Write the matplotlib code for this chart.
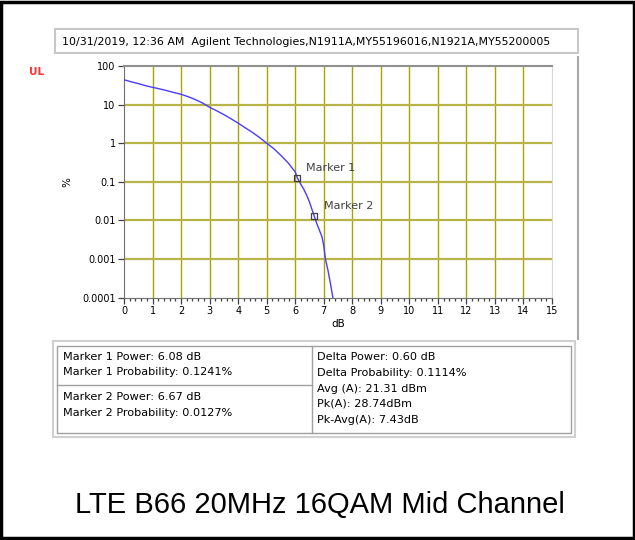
import numpy as np
import matplotlib
matplotlib.use("Agg")
import matplotlib.pyplot as plt
from matplotlib.patches import Rectangle
from matplotlib.ticker import FixedLocator, MultipleLocator, NullLocator

# CCDF curve
power_db = [0, 0.25, 0.5, 0.75, 1, 1.25, 1.5, 1.75, 2, 2.25, 2.5, 2.75, 3, 3.25,
            3.5, 3.75, 4, 4.25, 4.5, 4.75, 5, 5.25, 5.5, 5.75, 6, 6.08, 6.2, 6.3,
            6.4, 6.5, 6.6, 6.67, 6.75, 6.85, 6.94, 7.0, 7.06, 7.15, 7.25, 7.32]
prob_pct = [44, 39, 35, 31, 28, 25.5, 23, 20.5, 18.5, 16, 13.5, 11, 8.5, 6.9,
            5.5, 4.3, 3.3, 2.5, 1.9, 1.4, 1.0, 0.72, 0.48, 0.31, 0.18, 0.1241, 0.085, 0.064,
            0.045, 0.03, 0.018, 0.0127, 0.0085, 0.0055, 0.0037, 0.0022, 0.001, 0.0005, 0.0002, 0.0001]

marker_db = [6.08, 6.67]
marker_pct = [0.1241, 0.0127]
marker_names = ["Marker 1", "Marker 2"]

y_ticks = [100, 10, 1, 0.1, 0.01, 0.001, 0.0001]
y_labels = ["100", "10", "1", "0.1", "0.01", "0.001", "0.0001"]

header = "10/31/2019, 12:36 AM  Agilent Technologies,N1911A,MY55196016,N1921A,MY55200005"
left_top = ["Marker 1 Power: 6.08 dB", "Marker 1 Probability: 0.1241%"]
left_bot = ["Marker 2 Power: 6.67 dB", "Marker 2 Probability: 0.0127%"]
right_col = ["Delta Power: 0.60 dB", "Delta Probability: 0.1114%", "Avg (A): 21.31 dBm",
             "Pk(A): 28.74dBm", "Pk-Avg(A): 7.43dB"]
caption = "LTE B66 20MHz 16QAM Mid Channel"

W, H = 635, 540
fig = plt.figure(figsize=(W / 100, H / 100), dpi=100)
fig.patch.set_facecolor("white")

def px(x, y):
    # pixel coords (from top-left) -> figure fraction
    return x / W, 1 - y / H

def box(x0, y0, x1, y1, **kw):
    fig.patches.append(Rectangle(px(x0, y1), (x1 - x0) / W, (y1 - y0) / H,
                                 transform=fig.transFigure, **kw))

# outer black frame
box(1, 1.5, 633.5, 537.5, fill=False, edgecolor="black", linewidth=2.5)

# header strip (sunken look)
box(55, 29, 578, 53, facecolor="white", edgecolor="#c8c8c8", linewidth=1.5)
fig.lines.append(plt.Line2D([578 / W, 578 / W], [1 - 57 / H, 1 - 339 / H],
                            transform=fig.transFigure, color="#a8a8a8", lw=1.5))
fig.text(*px(62, 42), header, fontsize=7.9, va="center", ha="left", color="black")

fig.text(*px(37, 72), "UL", fontsize=7.5, color="#ff3030", fontweight="bold",
         ha="center", va="center")
fig.text(*px(67, 182), "%", fontsize=7.5, rotation=90, ha="center", va="center")

# plot
ax = fig.add_axes([124 / W, 1 - 297.5 / H, (552 - 124) / W, (297.5 - 66) / H])
ax.set_yscale("log")
ax.set_xlim(0, 15)
ax.set_ylim(0.0001, 100)

for v in range(1, 15):
    ax.axvline(v, color="#a8a400", lw=1.0, zorder=1)
for v in y_ticks[1:-1]:
    ax.axhline(v, color="#b8b448", lw=1.6, zorder=1)

ax.plot(power_db, prob_pct, color="#4a3cff", lw=1.0, zorder=3)
ax.plot(marker_db, marker_pct, linestyle="none", marker="s", markersize=4.2,
        markerfacecolor="none", markeredgecolor="#404040", markeredgewidth=0.9, zorder=4)
offsets = [(0.30, 1.8), (0.34, 1.8)]
for name, xv, yv, (dx, fy) in zip(marker_names, marker_db, marker_pct, offsets):
    ax.text(xv + dx, yv * fy, name, fontsize=8, color="#404040", va="center", ha="left")

ax.yaxis.set_major_locator(FixedLocator(y_ticks))
ax.yaxis.set_minor_locator(NullLocator())
ax.set_yticklabels(y_labels)
ax.xaxis.set_major_locator(MultipleLocator(1))
ax.xaxis.set_minor_locator(MultipleLocator(0.2))
ax.tick_params(axis="both", which="major", labelsize=7, length=4, width=0.9,
               color="#404040", pad=2)
ax.tick_params(axis="x", which="minor", length=2.5, width=0.9, color="#404040")
ax.set_xlabel("dB", fontsize=7.5, labelpad=2)

for side in ["left", "bottom"]:
    ax.spines[side].set_color("#707070")
ax.spines["top"].set_color("#909090")
ax.spines["top"].set_linewidth(1.5)
ax.spines["right"].set_color("#d8d8d8")

# marker info table
box(53, 341, 575, 437, facecolor="white", edgecolor="#d0d0d0", linewidth=1.5)
box(57, 346, 571, 433, fill=False, edgecolor="#a0a0a0", linewidth=1.0)
fig.lines.append(plt.Line2D([312 / W, 312 / W], [1 - 346 / H, 1 - 433 / H],
                            transform=fig.transFigure, color="#a0a0a0", lw=1.0))
fig.lines.append(plt.Line2D([57 / W, 312 / W], [1 - 385 / H, 1 - 385 / H],
                            transform=fig.transFigure, color="#a0a0a0", lw=1.0))

def lines(x, ys, texts):
    for y, t in zip(ys, texts):
        fig.text(*px(x, y), t, fontsize=8.1, ha="left", va="center")

lines(63, [357, 372], left_top)
lines(63, [397, 413], left_bot)
lines(317, [357, 373, 389, 404, 420], right_col)

fig.text(*px(320, 505), caption, fontsize=21, family="Liberation Sans",
         ha="center", va="center")

fig.savefig("out.png", dpi=100)
